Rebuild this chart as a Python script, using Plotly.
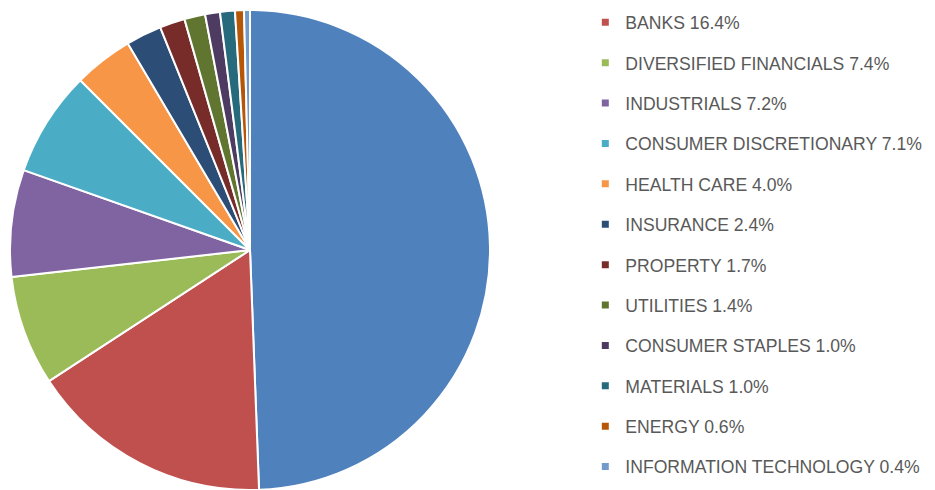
import plotly.graph_objects as go

categories = ["OTHER", "BANKS", "DIVERSIFIED FINANCIALS", "INDUSTRIALS", "CONSUMER DISCRETIONARY",
              "HEALTH CARE", "INSURANCE", "PROPERTY", "UTILITIES", "CONSUMER STAPLES",
              "MATERIALS", "ENERGY", "INFORMATION TECHNOLOGY"]
values = [49.4, 16.4, 7.4, 7.2, 7.1, 4.0, 2.4, 1.7, 1.4, 1.0, 1.0, 0.6, 0.4]
colors = ["#4F81BD", "#C0504D", "#9BBB59", "#8064A2", "#4BACC6", "#F79646", "#2C4D75",
          "#772C2A", "#5F7530", "#4D3B62", "#276A7C", "#B65708", "#729ACA"]
legend_show = [False] + [True] * 12

fig = go.Figure()
fig.add_trace(go.Pie(
    labels=categories, values=values, sort=False, direction="clockwise", rotation=0,
    marker=dict(colors=colors, line=dict(color="white", width=2)),
    textinfo="none", hoverinfo="label+percent", showlegend=False,
    domain=dict(x=[10/935, 490/935], y=[0, 480/490]),
))

for i, (cat, val, col, show) in enumerate(zip(categories, values, colors, legend_show)):
    if not show:
        continue
    fig.add_trace(go.Scatter(
        x=[None], y=[None], mode="markers", name=f"{cat} {val:.1f}%",
        marker=dict(symbol="square", size=7, color=col),
        legendgroup=f"g{i}", showlegend=True,
    ))

fig.update_layout(
    width=935, height=490,
    margin=dict(l=0, r=0, t=0, b=0),
    paper_bgcolor="white", plot_bgcolor="white",
    xaxis=dict(visible=False), yaxis=dict(visible=False),
    legend=dict(x=0.626, y=0.991, xanchor="left", yanchor="top",
                font=dict(family="Liberation Sans", size=17.6, color="#595959"),
                tracegroupgap=14.5, itemwidth=30, bgcolor="rgba(0,0,0,0)",
                maxheight=600),
    showlegend=True,
)

fig.write_html("out.html")
